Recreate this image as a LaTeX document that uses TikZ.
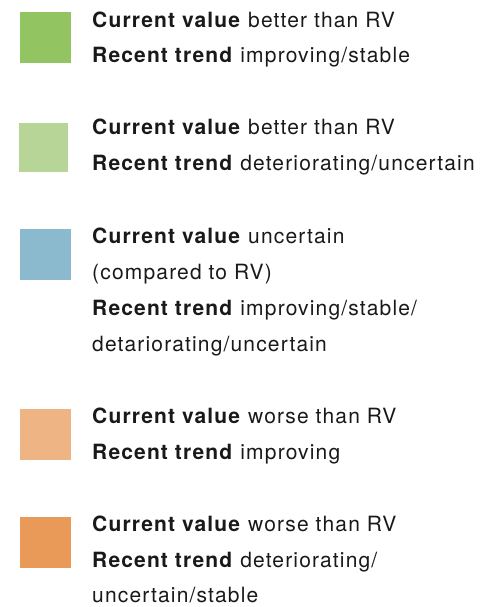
\documentclass[tikz,border=0pt]{standalone}
\usepackage{fontspec}
\setmainfont[LetterSpace=5.5]{TeX Gyre Heros}
\usepackage{tikz}

\definecolor{goodup}{RGB}{147,196,98}
\definecolor{gooddown}{RGB}{182,213,150}
\definecolor{unsure}{RGB}{139,186,207}
\definecolor{badup}{RGB}{239,180,131}
\definecolor{baddown}{RGB}{233,154,88}

\begin{document}
\begin{tikzpicture}[x=1pt, y=-1pt,
    swatch/.style={rectangle, inner sep=0pt, minimum size=51pt},
    legline/.style={anchor=base west, inner sep=0pt, text=black!90, font=\fontsize{21}{24}\selectfont}]
\useasboundingbox (0,0) rectangle (481,607);

% colour squares
\node[swatch, fill=goodup] (sqA) at (45.5,38) {};
\node[swatch, fill=gooddown, minimum size=49pt] (sqB) at (43.5,147.5) {};
\node[swatch, fill=unsure] (sqC) at (45.5,254.5) {};
\node[swatch, fill=badup] (sqD) at (45.5,434.5) {};
\node[swatch, fill=baddown] (sqE) at (45.5,542.5) {};

% descriptions
\node[legline] (txtA1) at (92,28) {\textbf{Current value} better than RV};
\node[legline] (txtA2) at (92,63) {\textbf{Recent trend} improving/stable};

\node[legline] (txtB1) at (92,135) {\textbf{Current value} better than RV};
\node[legline] (txtB2) at (92,170) {\textbf{Recent trend} deteriorating/uncertain};

\node[legline] (txtC1) at (92,243) {\textbf{Current value} uncertain};
\node[legline] (txtC2) at (92,279) {(compared to RV)};
\node[legline] (txtC3) at (92,315) {\textbf{Recent trend} improving/stable/};
\node[legline] (txtC4) at (92,351) {detariorating/uncertain};

\node[legline] (txtD1) at (92,423) {\textbf{Current value} worse than RV};
\node[legline] (txtD2) at (92,459) {\textbf{Recent trend} improving};

\node[legline] (txtE1) at (92,531) {\textbf{Current value} worse than RV};
\node[legline] (txtE2) at (92,567) {\textbf{Recent trend} deteriorating/};
\node[legline] (txtE3) at (92,602) {uncertain/stable};

\end{tikzpicture}
\end{document}
